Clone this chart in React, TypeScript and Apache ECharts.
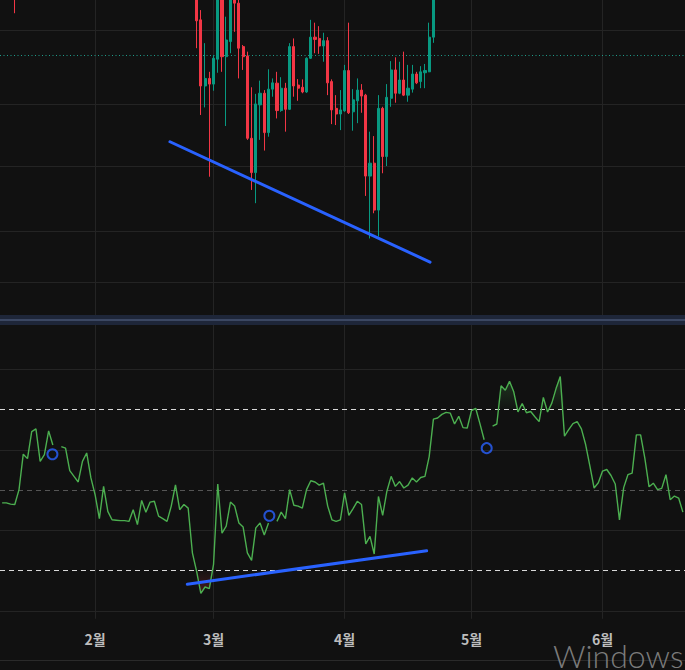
import React, { useEffect, useRef } from 'react';
import * as echarts from 'echarts';

// ---- data ----
const START_DATE = '2023-01-10';

// daily RSI values (null = gap in the drawn line)
const rsi: (number | null)[] = [
  46.8, 46.8, 46.5, 46.4, 50.1, 58.9, 57.8, 64.5, 65.2, 57.1,
  58.8, 64.7, 61.2, null, 60.8, 60.4, 54.8, 53.4, 52.0, 57.1,
  59.2, 53.0, 48.8, 42.9, 50.9, 44.7, 42.6, 42.5, 42.4, 42.4,
  42.2, 45.1, 41.4, 47.4, 44.5, 47.0, 47.2, 43.5, 42.9, 42.2,
  46.0, 51.3, 45.1, 46.4, 45.5, 34.4, 29.8, 24.3, 25.9, 25.5,
  31.5, 51.5, 39.3, 41.0, 47.0, 46.0, 41.8, 40.8, 34.4, 32.5,
  40.6, 41.8, 38.8, 41.8, null, 42.2, 44.5, 42.9, 50.1, 46.2,
  46.0, 45.5, 50.1, 52.3, 52.0, 51.2, 51.7, 46.0, 42.6, 42.2,
  42.6, 49.3, 43.7, 45.4, 47.2, 46.4, 36.6, 38.5, 34.1, 48.4,
  43.7, 49.7, 53.4, 50.9, 52.1, 50.5, 51.2, 53.0, 52.0, 53.1,
  53.4, 58.3, 67.6, 67.9, 68.8, 69.3, 69.1, 66.4, 68.3, 65.5,
  65.4, 69.7, 70.3, 66.5, 62.5, null, 65.9, 66.4, 75.9, 74.8,
  77.0, 74.4, 69.4, 71.5, 69.2, 69.5, 68.2, 67.0, 73.0, 69.4,
  71.6, 75.2, 78.2, 63.4, 65.0, 66.5, 67.0, 65.2, 61.3, 56.0,
  50.5, 51.8, 54.7, 55.1, 53.6, 51.5, 42.6, 50.6, 53.8, 54.2,
  63.7, 63.7, 57.9, 50.8, 51.7, 50.1, 50.4, 53.8, 47.6, 48.5,
  48.0, 44.5,
];

// visible candles: [open, close, low, high] (price index units)
const earlyCandleIndex = 3;
const earlyCandle = [109.5, 106.3, 95.8, 112.7];
const firstCandleIndex = 46;
const ohlc: number[][] = [
  [102.5, 93.4, 84.7, 104.8], [93.7, 72.7, 63.5, 96.8], [72.7, 75.1, 65.9, 86.3],
  [75.1, 73.3, 43.9, 77.2], [73.3, 81.5, 71.2, 82.5], [81.2, 103.2, 76.9, 104.8],
  [103.2, 82.0, 77.2, 104.8], [82.0, 87.3, 60.0, 94.7], [86.8, 102.5, 83.1, 103.8],
  [102.5, 99.0, 89.9, 103.8], [99.0, 84.7, 75.1, 100.6], [85.2, 82.0, 77.8, 85.7],
  [82.2, 56.1, 55.6, 83.6], [56.1, 45.2, 39.7, 72.3], [45.2, 67.0, 35.5, 70.2],
  [66.7, 70.4, 55.6, 74.4], [70.4, 57.9, 52.2, 71.4], [57.9, 71.7, 56.6, 78.0],
  [71.7, 73.7, 69.3, 75.1], [73.6, 64.9, 62.4, 77.2], [64.9, 72.0, 64.5, 75.5],
  [72.0, 65.3, 58.2, 73.7], [65.3, 85.2, 65.1, 86.3], [85.2, 72.7, 69.3, 87.8],
  [73.0, 72.0, 68.0, 74.9], [72.3, 70.8, 70.4, 74.8], [70.8, 81.5, 70.5, 81.8],
  [81.5, 88.2, 81.3, 93.7], [88.2, 87.5, 83.1, 92.8], [87.8, 85.4, 82.9, 91.7],
  [85.4, 87.1, 80.4, 89.6], [87.1, 73.7, 69.8, 88.2], [74.1, 65.1, 60.6, 74.8],
  [65.6, 63.8, 60.3, 69.8], [63.8, 65.1, 58.7, 71.4], [64.8, 77.6, 64.5, 79.4],
  [77.6, 64.2, 63.8, 92.8], [64.5, 68.3, 58.5, 71.7], [68.0, 71.4, 60.9, 75.1],
  [71.4, 69.5, 64.2, 73.3], [69.8, 44.1, 37.8, 70.2], [44.1, 48.2, 24.3, 58.2],
  [48.2, 33.3, 32.3, 56.8], [33.3, 65.6, 24.9, 69.8], [65.6, 50.3, 45.0, 66.1],
  [50.3, 69.1, 47.3, 73.3], [68.8, 77.8, 66.1, 80.6], [77.8, 70.4, 67.4, 81.8],
  [70.4, 74.6, 70.1, 80.4], [74.6, 69.8, 69.5, 83.6], [69.8, 72.0, 67.7, 79.4],
  [71.7, 76.5, 70.6, 79.4], [76.5, 73.7, 73.3, 77.2], [74.1, 77.2, 72.0, 79.0],
  [76.9, 77.6, 72.0, 79.7], [77.2, 88.2, 77.1, 92.8], [88.2, 103.2, 86.4, 104.8],
];

const priceGridLevels = [90.5, 66.9, 47.3, 26.7, 10.4];
const lastPriceLevel = 82.5;
const rsiGridLevels = [20, 40, 60, 80];
const rsiBands = [30, 70];
const rsiMid = 50;

// drawings: [day index, value]
const priceTrend = [[39.7, 55.0], [101.2, 16.8]];
const rsiTrend = [[43.8, 26.6], [100.4, 34.9]];
const markers = [[11.9, 58.9], [63.2, 43.6], [114.6, 60.4]];

// ---- derived ----
const n = rsi.length;
const startMs = Date.parse(START_DATE + 'T00:00:00Z');
const dates = rsi.map((_, i) => new Date(startMs + i * 86400000).toISOString().slice(0, 10));
const monthStarts = dates.filter((d) => d.endsWith('-01'));
const candles = dates.map((_, i) => {
  if (i === earlyCandleIndex) return earlyCandle;
  const k = i - firstCandleIndex;
  return k >= 0 && k < ohlc.length ? ohlc[k] : '-';
});

export default function App() {
  const ref = useRef<HTMLDivElement>(null);
  useEffect(() => {
    if (!ref.current) return;
    const chart = echarts.init(ref.current, null, { renderer: 'svg' });
    const gridLine = { color: '#242424', width: 1, type: 'solid' };
    const option: any = {
      animation: false,
      backgroundColor: '#111111',
      grid: [
        { left: 0, right: 0, top: 0, height: 315 },
        { left: 0, right: 0, top: 325, height: 293.8 },
      ],
      xAxis: [
        { type: 'category', gridIndex: 0, data: dates, show: false },
        {
          type: 'category', gridIndex: 1, data: dates,
          axisLine: { show: false }, axisTick: { show: false }, splitLine: { show: false },
          axisLabel: {
            interval: (_i: number, v: string) => v.endsWith('-01'),
            formatter: (v: string) => Number(v.slice(5, 7)) + '월',
            color: '#bdbdbd', fontSize: 14, fontWeight: 'bold',
            fontFamily: 'Noto Sans CJK KR', margin: 13,
          },
        },
        { type: 'value', gridIndex: 0, min: -0.5, max: n - 0.5, show: false },
        { type: 'value', gridIndex: 1, min: -0.5, max: n - 0.5, show: false },
      ],
      yAxis: [
        { type: 'value', gridIndex: 0, min: 0, max: 100, show: false, splitLine: { show: false } },
        { type: 'value', gridIndex: 1, min: 18, max: 91, show: false, splitLine: { show: false } },
      ],
      series: [
        {
          type: 'candlestick', name: 'price', xAxisIndex: 0, yAxisIndex: 0,
          data: candles, barWidth: 2.6, z: 3,
          itemStyle: {
            color: '#089981', color0: '#f23645',
            borderColor: '#089981', borderColor0: '#f23645', borderWidth: 1,
          },
          markLine: {
            silent: true, symbol: ['none', 'none'], z: 1, label: { show: false },
            lineStyle: gridLine,
            data: [
              ...monthStarts.map((d) => ({ xAxis: d })),
              ...priceGridLevels.map((v) => ({ yAxis: v })),
              { yAxis: lastPriceLevel, lineStyle: { color: '#1f9c8a', type: [1, 2.5], width: 1 } },
            ],
          },
        },
        {
          type: 'line', name: 'price trend', xAxisIndex: 2, yAxisIndex: 0,
          data: priceTrend, symbol: 'none', z: 5,
          lineStyle: { color: '#2962ff', width: 3, cap: 'round' },
        },
        {
          type: 'line', name: 'obBase', xAxisIndex: 1, yAxisIndex: 1, stack: 'ob',
          data: rsi.map((v) => (v == null ? '-' : 70)), symbol: 'none', silent: true,
          lineStyle: { opacity: 0 }, z: 2,
        },
        {
          type: 'line', name: 'obFill', xAxisIndex: 1, yAxisIndex: 1, stack: 'ob',
          data: rsi.map((v) => (v == null ? '-' : Math.max(v - 70, 0))), symbol: 'none', silent: true,
          lineStyle: { opacity: 0 }, z: 2,
          areaStyle: {
            color: new echarts.graphic.LinearGradient(0, 0, 0, 1, [
              { offset: 0, color: 'rgba(76,175,80,0.35)' },
              { offset: 1, color: 'rgba(76,175,80,0.03)' },
            ]),
          },
        },
        {
          type: 'line', name: 'osBase', xAxisIndex: 1, yAxisIndex: 1, stack: 'os',
          data: rsi.map((v) => (v == null ? '-' : Math.min(v, 30))), symbol: 'none', silent: true,
          lineStyle: { opacity: 0 }, z: 2,
        },
        {
          type: 'line', name: 'osFill', xAxisIndex: 1, yAxisIndex: 1, stack: 'os',
          data: rsi.map((v) => (v == null ? '-' : 30 - Math.min(v, 30))), symbol: 'none', silent: true,
          lineStyle: { opacity: 0 }, z: 2,
          areaStyle: {
            color: new echarts.graphic.LinearGradient(0, 0, 0, 1, [
              { offset: 0, color: 'rgba(242,54,69,0.03)' },
              { offset: 1, color: 'rgba(242,54,69,0.35)' },
            ]),
          },
        },
        {
          type: 'line', name: 'RSI', xAxisIndex: 1, yAxisIndex: 1,
          data: rsi.map((v) => (v == null ? '-' : v)), symbol: 'none', connectNulls: false,
          lineStyle: { color: '#4caf50', width: 1.4 }, z: 4,
          markLine: {
            silent: true, symbol: ['none', 'none'], z: 1, label: { show: false },
            lineStyle: gridLine,
            data: [
              ...monthStarts.map((d) => ({ xAxis: d })),
              ...rsiGridLevels.map((v) => ({ yAxis: v })),
              ...rsiBands.map((v) => ({ yAxis: v, lineStyle: { color: '#d8d8d8', type: [5, 4], width: 1 } })),
              { yAxis: rsiMid, lineStyle: { color: '#555555', type: [5, 4], width: 1 } },
            ],
          },
        },
        {
          type: 'line', name: 'rsi trend', xAxisIndex: 3, yAxisIndex: 1,
          data: rsiTrend, symbol: 'none', z: 5,
          lineStyle: { color: '#2962ff', width: 3, cap: 'round' },
        },
        {
          type: 'scatter', name: 'markers', xAxisIndex: 3, yAxisIndex: 1,
          data: markers, symbol: 'circle', symbolSize: 10, z: 6,
          itemStyle: { color: 'rgba(0,0,0,0)', borderColor: '#2962ff', borderWidth: 2 },
        },
      ],
      graphic: [
        { type: 'rect', shape: { x: 0, y: 315, width: 685, height: 10 }, style: { fill: '#1e2639' }, z: 10 },
        { type: 'rect', shape: { x: 0, y: 319, width: 685, height: 2 }, style: { fill: '#3b4762' }, z: 11 },
        { type: 'line', shape: { x1: 0, y1: 660.5, x2: 685, y2: 660.5 }, style: { stroke: '#2a2a2a', lineWidth: 1 }, z: 10 },
        {
          type: 'text', x: 553, y: 639, z: 12,
          style: { text: 'Windows', fontSize: 32, fontFamily: 'Lato', fontWeight: 300, fill: '#7b7b7b' },
        },
      ],
    };
    chart.setOption(option);
    return () => chart.dispose();
  }, []);
  return (
    <div
      ref={ref}
      style={{ position: 'fixed', left: 0, top: 0, width: 685, height: 670, background: '#111111' }}
    />
  );
}
